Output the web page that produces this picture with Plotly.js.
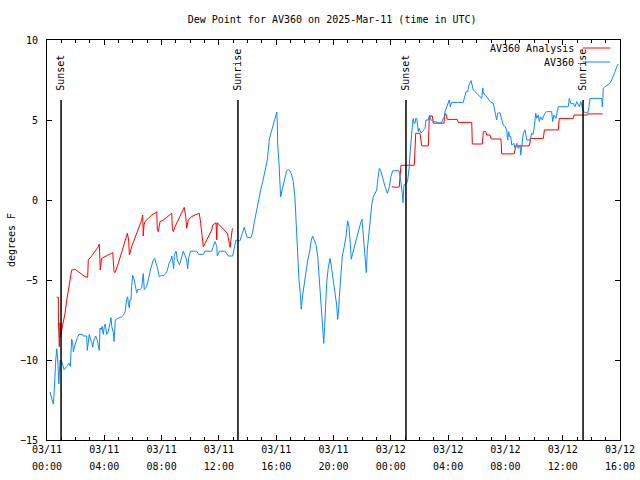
<!DOCTYPE html>
<html>
<head>
<meta charset="utf-8">
<script src="https://cdn.plot.ly/plotly-3.0.1.min.js"></script>
<style>html,body{margin:0;padding:0;background:#fff}#chart{width:640px;height:480px}</style>
</head>
<body>
<div id="chart"></div>
<script>
// Hours after 2025-03-11 00:00 UTC
const blueHours = [0.21,0.37,0.44,0.49,0.54,0.61,0.68,0.75,0.82,0.86,0.91,1.03,1.19,1.38,1.54,1.63,1.68,1.72,1.79,1.84,1.91,2.00,2.12,2.23,2.49,2.53,2.77,2.81,2.88,2.95,3.05,3.12,3.19,3.28,3.40,3.51,3.58,3.65,3.70,3.79,3.84,3.93,4.00,4.07,4.17,4.28,4.40,4.47,4.52,4.63,4.68,4.73,4.77,4.94,5.21,5.33,5.45,5.56,5.63,5.68,5.75,5.79,5.86,5.91,5.98,6.09,6.19,6.26,6.33,6.49,6.61,6.72,6.79,6.96,7.07,7.14,7.24,7.42,7.52,7.59,7.70,7.84,7.94,8.17,8.29,8.40,8.52,8.64,8.71,8.77,8.84,8.89,9.01,9.10,9.24,9.35,9.51,9.63,9.75,9.82,9.89,10.03,10.45,10.59,10.91,11.03,11.50,11.61,11.73,11.85,11.89,12.03,12.43,12.54,12.66,12.96,13.08,13.19,13.38,
13.47,13.63,13.77,13.87,13.98,14.24,14.36,14.47,14.59,14.71,14.82,14.94,15.06,15.17,15.29,15.38,15.45,15.52,15.64,15.76,15.87,15.97,16.04,16.08,16.10,16.20,16.27,16.31,16.38,16.50,16.61,16.73,16.84,16.96,17.08,17.19,17.31,17.38,17.45,17.52,17.59,17.68,17.75,17.85,17.94,18.06,18.20,18.34,18.45,18.55,18.66,18.78,18.90,19.01,19.13,19.22,19.27,19.32,19.36,19.41,19.46,19.53,19.64,19.76,19.87,19.99,20.10,20.22,20.29,20.34,20.41,20.50,20.61,20.75,20.87,20.99,21.08,21.17,21.24,21.34,21.45,21.57,21.69,21.80,21.90,21.99,22.08,22.20,22.29,22.36,22.48,22.57,22.67,22.78,22.90,23.02,23.09,23.20,23.32,23.43,23.60,23.76,23.90,24.01,24.13,24.57,24.69,24.80,24.85,24.92,25.11,25.18,25.29,25.36,25.41,25.46,25.53,25.57,25.62,25.69,25.74,25.81,25.85,25.92,25.97,26.11,26.20,26.39,26.46,26.62,26.72,26.81,26.97,27.13,27.32,27.55,27.66,27.73,27.78,27.90,28.01,28.08,28.15,28.25,29.06,29.18,29.25,29.37,29.46,29.60,29.69,29.76,29.88,30.00,30.11,30.35,30.42,30.46,30.58,30.69,30.81,30.93,31.16,31.23,31.27,31.39,31.46,31.62,31.69,31.78,31.85,31.97,32.09,32.16,32.23,32.30,32.37,32.44,32.60,32.67,32.79,32.90,33.02,33.07,33.14,33.25,33.37,33.49,33.72,33.84,33.93,34.02,34.12,34.19,34.30,34.37,34.46,34.58,34.65,34.76,34.88,35.23,35.30,35.39,35.53,35.62,35.69,36.39,36.46,36.56,36.74,36.86,36.98,37.07,37.16,37.26,37.35,37.44,37.63,37.75,37.84,37.91,38.74,38.76,38.81,38.83,38.95,39.18,39.30,39.42,39.53,39.65,39.77,39.88];
const blueValues = [-12.0,-12.5,-12.75,-12.2,-11.1,-10.0,-9.3,-10.0,-11.5,-10.75,-10.0,-10.1,-10.6,-10.4,-10.2,-10.4,-9.6,-8.7,-8.9,-9.5,-9.2,-8.9,-8.6,-8.4,-8.4,-8.5,-8.5,-9.4,-8.9,-8.4,-8.75,-8.9,-9.2,-8.75,-8.5,-8.75,-9.1,-9.4,-8.0,-8.1,-7.9,-8.4,-7.9,-7.75,-8.4,-8.2,-7.7,-7.35,-7.9,-8.3,-8.85,-7.7,-7.5,-7.4,-7.3,-7.2,-7.0,-6.25,-6.05,-6.45,-6.75,-6.25,-6.25,-5.4,-4.7,-5.0,-5.5,-5.8,-5.6,-5.6,-5.5,-4.6,-5.6,-5.4,-5.0,-4.7,-4.3,-3.75,-3.65,-3.9,-4.2,-4.8,-4.75,-4.7,-4.6,-4.4,-3.95,-3.75,-3.5,-3.8,-4.3,-3.45,-3.2,-3.75,-4.05,-3.75,-3.2,-3.45,-3.75,-4.3,-3.6,-3.2,-3.2,-3.4,-3.4,-3.2,-3.2,-2.9,-2.6,-2.9,-3.5,-3.2,-3.2,-3.35,-3.5,-3.5,-2.9,-2.5,-2.55,
-2.55,-2.1,-1.7,-2.05,-2.35,-2.35,-2.0,-1.4,-0.83,-0.2,0.3,0.73,1.15,1.56,1.98,2.5,3.1,3.8,4.2,4.6,5.0,5.3,5.5,4.8,3.55,2.2,0.83,0.2,0.5,0.94,1.46,1.83,1.92,1.83,1.56,1.15,0.1,-1.35,-2.6,-3.96,-5.0,-5.83,-6.83,-5.94,-5.3,-4.4,-3.75,-3.2,-2.5,-2.25,-2.5,-2.8,-3.54,-4.9,-6.46,-7.9,-8.65,-8.96,-8.33,-7.0,-5.83,-5.1,-4.2,-3.65,-4.27,-5.0,-5.83,-6.56,-7.46,-7.1,-6.04,-5.0,-3.54,-2.92,-2.3,-1.3,-1.67,-2.7,-3.7,-3.33,-2.92,-2.5,-2.08,-1.63,-1.42,-1.2,-2.3,-3.75,-4.54,-3.1,-1.9,-1.15,-0.3,0.2,0.42,0.63,1.25,1.98,1.77,1.35,0.83,0.42,0.83,1.46,1.83,1.83,1.25,0.42,-0.17,0.94,1.04,1.25,2.08,3.1,3.85,4.4,4.9,5.1,4.8,4.8,5.1,5.1,4.8,4.27,4.48,4.2,4.27,4.48,5.0,5.0,5.3,5.0,4.9,4.9,4.83,4.83,5.1,5.2,5.5,5.83,6.15,6.25,5.83,6.1,6.1,6.46,6.77,6.77,7.19,7.46,7.19,6.88,6.77,6.67,6.56,6.35,7.0,6.67,6.6,6.46,6.35,6.15,6.04,5.73,5.42,5.0,5.42,5.46,5.2,4.8,4.69,4.58,4.38,3.75,4.27,3.96,3.96,3.44,3.54,3.23,3.54,3.23,3.44,2.81,3.44,4.17,4.38,3.75,3.75,4.17,4.1,4.58,5.42,5.1,5.31,4.9,5.2,5.0,5.2,5.42,5.52,5.52,4.9,5.31,5.1,5.42,5.83,5.83,6.35,6.04,6.04,5.83,6.15,6.0,5.83,6.15,5.73,5.52,5.46,5.42,5.83,6.35,6.35,5.83,6.35,6.98,7.08,7.19,7.29,7.5,7.81,8.02,8.33,8.5];

const redHours = [0.68,0.79,0.80,0.86,0.91,0.96,1.03,1.14,1.26,1.38,1.49,1.61,1.72,1.95,2.19,2.42,2.65,2.84,2.88,3.12,3.35,3.58,3.65,3.72,3.77,3.82,4.05,4.28,4.59,4.68,4.75,4.98,5.21,5.45,5.61,5.70,5.75,5.91,6.14,6.37,6.61,6.68,6.72,6.77,6.84,7.07,7.31,7.54,7.66,7.70,7.77,7.89,8.12,8.36,8.59,8.71,8.75,8.82,8.94,9.17,9.40,9.58,9.68,9.75,9.86,10.10,10.33,10.63,10.73,10.80,10.91,11.03,11.26,11.50,11.57,11.80,11.85,11.89,12.03,12.20,12.43,12.59,12.73,12.78,12.84,12.89,12.94,
18.0,
24.06,24.41,24.59,24.64,24.71,25.64,25.74,26.04,26.16,26.62,26.69,26.90,26.97,27.71,27.78,27.85,27.94,28.64,28.71,29.65,29.69,30.39,30.46,30.63,30.69,30.93,31.00,31.69,31.74,32.60,32.74,33.67,33.77,34.65,34.72,35.69,35.76,36.74,36.79,37.72,37.79,38.79];
const redValues = [-6.08,-6.08,-7.6,-9.17,-7.67,-8.54,-8.1,-7.7,-7.08,-6.25,-5.52,-5.0,-4.38,-4.33,-4.48,-4.63,-4.79,-4.83,-3.75,-3.5,-3.23,-2.92,-2.75,-4.38,-3.96,-3.65,-3.54,-3.44,-3.29,-4.48,-4.54,-3.96,-3.23,-2.5,-2.08,-2.5,-3.44,-2.92,-2.4,-1.88,-1.25,-0.94,-2.25,-1.56,-1.35,-1.15,-0.94,-0.83,-0.73,-1.83,-1.98,-1.35,-1.25,-1.08,-0.94,-0.83,-1.77,-1.98,-1.67,-1.25,-0.83,-0.46,-1.04,-1.77,-1.25,-1.04,-0.94,-0.83,-1.46,-1.98,-2.92,-2.71,-2.29,-1.88,-1.56,-1.42,-2.5,-1.42,-1.56,-1.71,-1.92,-2.08,-2.71,-2.96,-2.5,-2.08,-1.77,
null,
0.83,0.79,0.83,1.77,2.17,2.17,4.17,4.17,3.38,3.38,5.25,5.25,4.8,4.8,5.38,5.38,5.04,5.04,4.85,4.85,3.5,3.5,4.27,4.27,4.06,4.06,3.81,3.81,2.88,2.88,3.38,3.38,3.85,3.85,4.38,4.38,5.1,5.1,5.31,5.31,5.38,5.38];

const sunHours = [0.98, 13.33, 25.06, 37.42];
const sunLabels = ['Sunset', 'Sunrise', 'Sunset', 'Sunrise'];

const seriesNames = ['AV360 Analysis', 'AV360'];
const seriesColors = ['#ff0000', '#1088ff'];

function toDate(h) {
  const ms = Date.UTC(2025, 2, 11) + Math.round(h * 3600000);
  return new Date(ms).toISOString().replace('T', ' ').slice(0, 19);
}

const FONT = 'DejaVu Sans Mono, Liberation Mono, monospace';
const tf = {family: FONT, size: 10, color: '#000'};

const traces = [
  {x: redHours.map(toDate), y: redValues, name: seriesNames[0], type: 'scatter', mode: 'lines',
   line: {color: seriesColors[0], width: 1}, connectgaps: false, xaxis: 'x', yaxis: 'y'},
  {x: blueHours.map(toDate), y: blueValues, name: seriesNames[1], type: 'scatter', mode: 'lines',
   line: {color: seriesColors[1], width: 1}, xaxis: 'x2', yaxis: 'y'}
];

const shapes = sunHours.map(h => ({
  type: 'line', xref: 'x', yref: 'y', x0: toDate(h), x1: toDate(h), y0: -15, y1: 6.25,
  line: {color: '#000', width: 1.5}
}));
const annotations = sunHours.map((h, i) => ({
  x: toDate(h), y: 6.7, xref: 'x', yref: 'y', text: sunLabels[i], textangle: -90,
  showarrow: false, xanchor: 'center', yanchor: 'bottom', font: tf
}));
// legend (gnuplot style: text then sample line)
seriesNames.forEach((n, i) => {
  const yp = i === 0 ? 0.98 : 0.945;
  annotations.push({x: 0.923, y: yp, xref: 'paper', yref: 'paper', text: n, showarrow: false,
    xanchor: 'right', yanchor: 'middle', font: tf});
  shapes.push({type: 'line', xref: 'paper', yref: 'paper', x0: 0.935, x1: 0.983, y0: yp, y1: yp,
    line: {color: seriesColors[i], width: 1}});
});

const xRange = [toDate(0), toDate(40)];

const layout = {
  width: 640, height: 480,
  margin: {l: 47, r: 20, t: 40, b: 40},
  paper_bgcolor: '#fff', plot_bgcolor: '#fff',
  font: tf,
  showlegend: false,
  title: {text: 'Dew Point for AV360 on 2025-Mar-11 (time in UTC)', x: 0.519, xanchor: 'center',
          y: 0.96, yanchor: 'middle', font: tf},
  xaxis: {
    type: 'date', range: xRange,
    dtick: 4 * 3600000, tick0: toDate(0), tickformat: '%m/%d',
    ticks: 'inside', ticklen: 5, tickwidth: 1, tickcolor: '#000',
    minor: {dtick: 3600000, ticks: 'inside', ticklen: 3, tickcolor: '#000', showgrid: false},
    showline: true, linecolor: '#000', linewidth: 1, mirror: 'ticks',
    showgrid: false, zeroline: false, tickfont: tf
  },
  xaxis2: {
    type: 'date', range: xRange, overlaying: 'x', anchor: 'y', side: 'bottom',
    dtick: 4 * 3600000, tick0: toDate(0), tickformat: '%H:%M',
    ticks: '', showline: false, showgrid: false, zeroline: false,
    ticklabelstandoff: 19, tickfont: tf
  },
  yaxis: {
    range: [-15, 10], dtick: 5, tick0: 0,
    ticks: 'inside', ticklen: 5, tickwidth: 1, tickcolor: '#000',
    showline: true, linecolor: '#000', linewidth: 1, mirror: 'ticks',
    showgrid: false, zeroline: false, tickfont: tf, ticklabelstandoff: 6,
    title: {text: 'degrees F', standoff: 2, font: tf},
    automargin: false
  },
  shapes: shapes,
  annotations: annotations
};

Plotly.newPlot('chart', traces, layout, {staticPlot: true, displayModeBar: false});
</script>
</body>
</html>
